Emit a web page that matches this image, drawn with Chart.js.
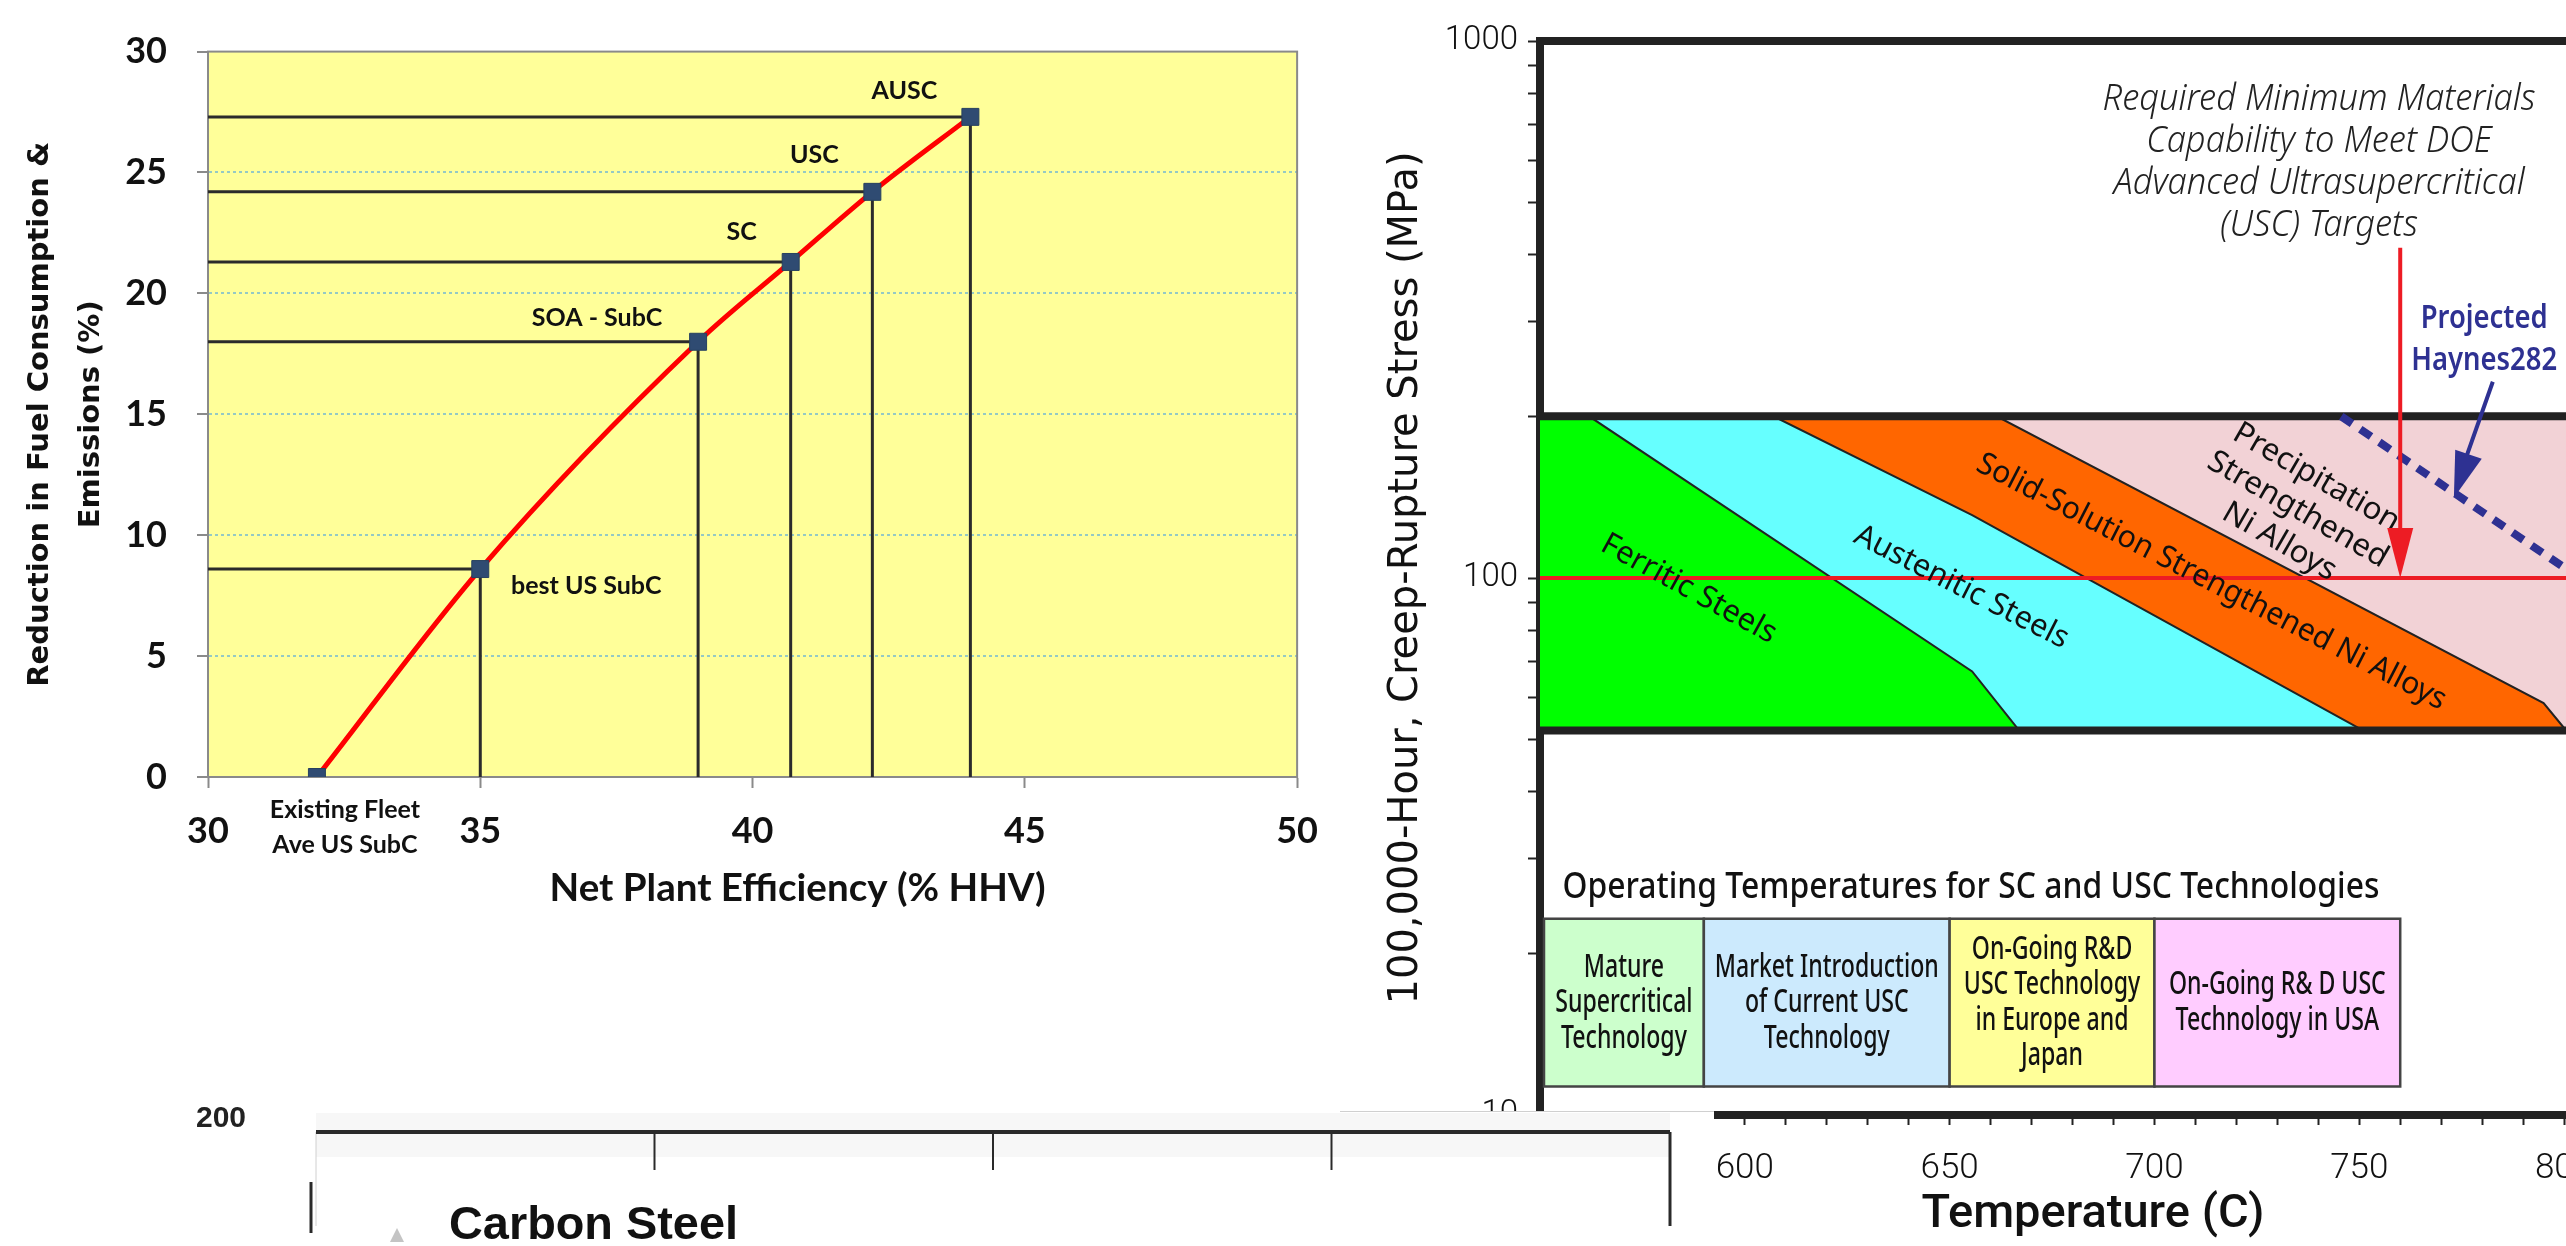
<!DOCTYPE html>
<html>
<head>
<meta charset="utf-8">
<script src="https://cdn.jsdelivr.net/npm/chart.js@4.4.0/dist/chart.umd.min.js"></script>
<style>
  html, body { margin: 0; padding: 0; background: #fff; width: 2566px; height: 1246px; overflow: hidden; position: relative; }
  canvas { position: absolute; }
  #efficiency { left: 0; top: 0; }
  #creep { left: 1340px; top: 0; }
  #carbon { left: 0; top: 1100px; }
</style>
</head>
<body>
<canvas id="efficiency" width="1340" height="930"></canvas>
<canvas id="creep" width="1340" height="1246"></canvas>
<canvas id="carbon" width="1714" height="146"></canvas>
<script>
// ---- left chart: efficiency vs reduction ----
const efficiency = [32, 35, 39, 40.7, 42.2, 44];
const reduction = [0, 8.6, 18, 21.3, 24.2, 27.3];
const plantTypes = [['Existing Fleet', 'Ave US SubC'], 'best US SubC', 'SOA - SubC', 'SC', 'USC', 'AUSC'];
const labelOffsets = [[28, 33], [106, 17], [-101, -24], [-49, -30], [-58, -37], [-66, -26]];

// ---- right chart: creep-rupture stress vs temperature ----
const stressTicks = [10, 20, 30, 40, 50, 60, 70, 80, 90, 100, 200, 300, 400, 500, 600, 700, 800, 900, 1000];
const stressLabels = [10, 100, 1000];
const bandTop = 200;
const bandBottom = 52;
const ferriticEdge = [[550, 200], [562, 200], [655.5, 67], [667, 52]];
const austeniticEdge = [[550, 200], [607, 200], [655.5, 131], [751, 52]];
const solidSolutionEdge = [[550, 200], [661.5, 200], [795, 58.5], [800.5, 52]];
const precipitationEdge = [[550, 200], [830, 200]];
const haynes282 = [[745.6, 200], [800.5, 104]];
const requiredStress = 100;
const requiredArrow = [[760, 412], [760, 100]];
const haynesArrow = [[782.6, 232], [773.1, 141]];
const techRanges = [[550, 590], [590, 650], [650, 700], [700, 760]];
const techStress = [11.3, 23.2];
const techTexts = [
  ['Mature', 'Supercritical', 'Technology'],
  ['Market Introduction', 'of Current USC', 'Technology'],
  ['On-Going R&D', 'USC Technology', 'in Europe and', 'Japan'],
  ['On-Going R& D USC', 'Technology in USA']
];
const techColors = ['#ccffcc', '#cceafd', '#ffff99', '#ffccff'];

// ---- bottom fragment: carbon steel ----
const carbonSteel = [];
const carbonTicks = [1, 2, 3];

const pts = arr => arr.map(([x, y]) => ({x, y}));

function drawLines(ctx, lines, x, y, o) {
  ctx.save();
  ctx.translate(x, y);
  if (o.rotate) ctx.rotate(o.rotate * Math.PI / 180);
  ctx.font = o.font;
  ctx.fillStyle = o.color || '#111';
  ctx.textAlign = o.align || 'center';
  ctx.textBaseline = 'middle';
  let sx = o.sx || 1;
  if (o.fit) sx = o.fit / ctx.measureText(lines[0]).width;
  ctx.scale(sx, 1);
  const n = lines.length;
  lines.forEach((t, i) => ctx.fillText(t, 0, (i - (n - 1) / 2) * o.lh));
  ctx.restore();
}

// ===== chart 1 =====
const plotFrame = {
  id: 'plotFrame',
  beforeDraw(chart) {
    const {ctx, chartArea: a} = chart;
    ctx.save();
    ctx.fillStyle = '#ffff99';
    ctx.fillRect(a.left, a.top, a.width, a.height);
    ctx.restore();
  },
  beforeDatasetsDraw(chart) {
    const {ctx, chartArea: a} = chart;
    ctx.save();
    ctx.strokeStyle = '#8a8a8a';
    ctx.lineWidth = 2;
    ctx.strokeRect(a.left, a.top, a.width, a.height);
    ctx.restore();
  }
};

const pointLabels = {
  id: 'pointLabels',
  afterDatasetsDraw(chart) {
    const {ctx, chartArea: a} = chart;
    const els = chart.getDatasetMeta(0).data;
    ctx.save();
    ctx.font = '700 25px Lato';
    ctx.fillStyle = '#111';
    ctx.textAlign = 'center';
    ctx.textBaseline = 'middle';
    plantTypes.forEach((label, i) => {
      const [dx, dy] = labelOffsets[i];
      [].concat(label).forEach((t, j) => ctx.fillText(t, els[i].x + dx, els[i].y + dy + j * 35));
    });
    ctx.restore();
    // axis title, slightly right of centre as in the source figure
    drawLines(ctx, ['Net Plant Efficiency (% HHV)'], (a.left + a.right) / 2 + 45, a.bottom + 112,
      {font: '700 38px Lato', lh: 40, fit: 496, color: '#111'});
  }
};

const dropLines = efficiency.slice(1).map((x, i) => ({
  data: [{x: 30, y: reduction[i + 1]}, {x, y: reduction[i + 1]}, {x, y: 0}],
  borderColor: '#2b2b2b',
  borderWidth: 3,
  pointRadius: 0,
  tension: 0
}));

new Chart(document.getElementById('efficiency'), {
  type: 'line',
  data: {
    datasets: [{
      data: efficiency.map((x, i) => ({x, y: reduction[i]})),
      borderColor: '#ff0000',
      borderWidth: 5,
      cubicInterpolationMode: 'monotone',
      pointStyle: 'rect',
      pointRadius: 12,
      pointBackgroundColor: '#2f4b72',
      pointBorderColor: '#27405f',
      pointBorderWidth: 1
    }, ...dropLines]
  },
  options: {
    responsive: false,
    animation: false,
    layout: {padding: {top: 50, right: 40, left: 0, bottom: 0}},
    plugins: {legend: {display: false}, tooltip: {enabled: false}},
    scales: {
      x: {
        type: 'linear', min: 30, max: 50,
        afterFit: s => { s.height = 153; },
        ticks: {stepSize: 5, color: '#111', padding: 22, font: {family: 'Lato', weight: '700', size: 36}},
        grid: {drawOnChartArea: false, tickLength: 11, tickColor: '#8a8a8a', tickWidth: 2},
        border: {color: '#8a8a8a', width: 2}
      },
      y: {
        min: 0, max: 30,
        afterFit: s => { s.width = 208; },
        ticks: {stepSize: 5, color: '#111', padding: 30, font: {family: 'Lato', weight: '700', size: 36}},
        grid: {
          color: c => (c.tick.value === 0 || c.tick.value === 30) ? 'rgba(0,0,0,0)' : '#95c9c4',
          lineWidth: 2, tickLength: 11, tickColor: '#8a8a8a', tickWidth: 2
        },
        border: {color: '#8a8a8a', width: 2, dash: [3, 3]},
        title: {display: true, text: ['Reduction in Fuel Consumption &', 'Emissions (%)'], color: '#111',
          padding: {top: 15, bottom: 0}, font: {family: 'DejaVu Sans', weight: 'bold', size: 29, lineHeight: 1.75}}
      }
    }
  },
  plugins: [plotFrame, pointLabels]
});

// ===== chart 2 =====
const creepNotes = {
  id: 'creepNotes',
  afterDatasetsDraw(chart) {
    const {ctx, scales: {x, y}} = chart;
    const body = {font: '400 31px "Noto Sans"', lh: 37, color: '#111'};
    drawLines(ctx, ['Ferritic Steels'], x.getPixelForValue(586.3), y.getPixelForValue(95.4), {...body, rotate: 28.8, fit: 195});
    drawLines(ctx, ['Austenitic Steels'], x.getPixelForValue(652.9), y.getPixelForValue(96.1), {...body, rotate: 27, fit: 236});
    drawLines(ctx, ['Solid-Solution Strengthened Ni Alloys'], x.getPixelForValue(713.9), y.getPixelForValue(98.3), {...body, rotate: 27.3, fit: 524});
    drawLines(ctx, ['Precipitation', 'Strengthened', 'Ni Alloys'], x.getPixelForValue(735), y.getPixelForValue(134), {...body, rotate: 30, fit: 187});
  },
  afterDraw(chart) {
    const {ctx, chartArea: a, scales: {x, y}} = chart;
    ctx.save();
    // top frame
    ctx.strokeStyle = '#222';
    ctx.lineWidth = 8;
    ctx.beginPath();
    ctx.moveTo(a.left - 4, a.top);
    ctx.lineTo(a.right, a.top);
    ctx.stroke();

    // arrowheads
    const head = (from, to, len, half, color) => {
      const x0 = x.getPixelForValue(from[0]), y0 = y.getPixelForValue(from[1]);
      const x1 = x.getPixelForValue(to[0]), y1 = y.getPixelForValue(to[1]);
      const ang = Math.atan2(y1 - y0, x1 - x0);
      ctx.save();
      ctx.translate(x1, y1);
      ctx.rotate(ang);
      ctx.fillStyle = color;
      ctx.beginPath();
      ctx.moveTo(0, 0);
      ctx.lineTo(-len, -half);
      ctx.lineTo(-len, half);
      ctx.closePath();
      ctx.fill();
      ctx.restore();
    };
    head(requiredArrow[0], requiredArrow[1], 50, 13, '#ed1c24');
    head(haynesArrow[0], haynesArrow[1], 46, 14, '#2e3192');

    // technology boxes
    const yTop = y.getPixelForValue(techStress[1]);
    const yBot = y.getPixelForValue(techStress[0]);
    techRanges.forEach(([t0, t1], i) => {
      const x0 = x.getPixelForValue(t0) + (i === 0 ? 4 : 0);
      const x1 = x.getPixelForValue(t1);
      ctx.fillStyle = techColors[i];
      ctx.fillRect(x0, yTop, x1 - x0, yBot - yTop);
      ctx.strokeStyle = '#444';
      ctx.lineWidth = 2.5;
      ctx.strokeRect(x0, yTop, x1 - x0, yBot - yTop);
      drawLines(ctx, techTexts[i], (x0 + x1) / 2, (yTop + yBot) / 2, {font: '500 33px "Noto Sans"', lh: 35.5, sx: 0.7, color: '#111'});
    });
    drawLines(ctx, ['Operating Temperatures for SC and USC Technologies'], x.getPixelForValue(655.2), y.getPixelForValue(26.5),
      {font: '500 36px "Noto Sans"', lh: 40, fit: 817, color: '#111'});

    drawLines(ctx, ['Required Minimum Materials', 'Capability to Meet DOE', 'Advanced Ultrasupercritical', '(USC) Targets'],
      x.getPixelForValue(740.2), y.getPixelForValue(593), {font: 'italic 300 37px "Noto Sans"', lh: 42, fit: 433, color: '#222'});
    drawLines(ctx, ['Projected', 'Haynes282'], x.getPixelForValue(780.5), y.getPixelForValue(277.5),
      {font: '600 32px "Noto Sans"', lh: 42, fit: 127, color: '#2e3192'});
    ctx.restore();
  }
};

const edgeSet = (edge, color) => ({
  data: pts(edge), borderColor: '#222', borderWidth: 2, backgroundColor: color,
  fill: {value: bandBottom}, pointRadius: 0, tension: 0
});

new Chart(document.getElementById('creep'), {
  type: 'line',
  data: {
    datasets: [
      {data: pts([requiredArrow[0], [760, 118]]), borderColor: '#ed1c24', borderWidth: 4, pointRadius: 0},
      {data: pts([haynesArrow[0], [774.5, 155]]), borderColor: '#2e3192', borderWidth: 4, pointRadius: 0},
      {data: pts(haynes282), borderColor: '#2e3192', borderWidth: 8, borderDash: [13, 10], pointRadius: 0},
      {data: [{x: 550, y: requiredStress}, {x: 830, y: requiredStress}], borderColor: '#ed1c24', borderWidth: 4, pointRadius: 0},
      {data: [{x: 550, y: bandTop}, {x: 830, y: bandTop}], borderColor: '#222', borderWidth: 8, pointRadius: 0},
      {data: [{x: 550, y: bandBottom}, {x: 830, y: bandBottom}], borderColor: '#222', borderWidth: 8, pointRadius: 0},
      edgeSet(ferriticEdge, '#00ff00'),
      edgeSet(austeniticEdge, '#66ffff'),
      edgeSet(solidSolutionEdge, '#ff6600'),
      {...edgeSet(precipitationEdge, '#f2d2d6'), borderWidth: 0}
    ]
  },
  options: {
    responsive: false,
    animation: false,
    layout: {padding: {top: 41, right: 34, left: 0, bottom: 0}},
    plugins: {legend: {display: false}, tooltip: {enabled: false}},
    scales: {
      x: {
        type: 'linear', min: 550, max: 820,
        afterFit: s => { s.height = 131; },
        ticks: {stepSize: 10, autoSkip: false, maxRotation: 0, color: '#111', padding: 23,
          callback: v => v % 50 === 0 ? String(v) : '',
          font: {family: 'Roboto', weight: '300', size: 35}},
        grid: {drawOnChartArea: false, tickLength: 10, tickColor: '#222', tickWidth: 2},
        border: {color: '#222', width: 8},
        title: {display: true, text: 'Temperature (C)', color: '#111', padding: {bottom: 3, top: 0},
          font: {family: 'Roboto', weight: '500', size: 47}}
      },
      y: {
        type: 'logarithmic', min: 10, max: 1000,
        afterFit: s => { s.width = 200; },
        afterBuildTicks: s => { s.ticks = stressTicks.map(value => ({value})); },
        ticks: {autoSkip: false, color: '#111', padding: 10,
          callback: v => stressLabels.includes(v) ? String(v) : '',
          font: {family: 'Roboto', weight: '300', size: 33}},
        grid: {drawOnChartArea: false, tickLength: 12, tickColor: '#222', tickWidth: 2},
        border: {color: '#222', width: 8},
        title: {display: true, text: '100,000-Hour, Creep-Rupture Stress (MPa)', color: '#111',
          padding: {top: 43, bottom: 0}, font: {family: 'DejaVu Sans', size: 40}}
      }
    }
  },
  plugins: [creepNotes]
});

// ===== chart 3 (fragment) =====
const carbonFrame = {
  id: 'carbonFrame',
  beforeDraw(chart) {
    const {ctx, width, height} = chart;
    ctx.save();
    ctx.fillStyle = '#fff';
    ctx.fillRect(0, 11, width, height - 11);
    ctx.restore();
  },
  afterDraw(chart) {
    const {ctx, chartArea: a, scales: {x}} = chart;
    ctx.save();
    ctx.fillStyle = 'rgba(0,0,0,0.03)';
    ctx.fillRect(a.left, 13, a.width, 44);
    ctx.strokeStyle = '#d0d0d0';
    ctx.lineWidth = 1;
    ctx.beginPath(); ctx.moveTo(1340, 11.5); ctx.lineTo(1714, 11.5); ctx.stroke();
    ctx.beginPath(); ctx.moveTo(a.left, a.top); ctx.lineTo(a.left, a.bottom); ctx.stroke();
    ctx.strokeStyle = '#2a2a2a';
    ctx.lineWidth = 4;
    ctx.beginPath(); ctx.moveTo(a.left, a.top); ctx.lineTo(a.right, a.top); ctx.stroke();
    ctx.lineWidth = 3;
    ctx.beginPath(); ctx.moveTo(a.right, a.top); ctx.lineTo(a.right, a.bottom); ctx.stroke();
    ctx.beginPath(); ctx.moveTo(a.left - 5, a.top + 50); ctx.lineTo(a.left - 5, a.top + 101); ctx.stroke();
    ctx.lineWidth = 2;
    carbonTicks.forEach(v => {
      const px = x.getPixelForValue(v);
      ctx.beginPath(); ctx.moveTo(px, a.top); ctx.lineTo(px, a.top + 38); ctx.stroke();
    });
    // legend entry inside the plot
    const ds = chart.data.datasets[0];
    ctx.fillStyle = ds.backgroundColor;
    ctx.beginPath();
    ctx.moveTo(a.left + 81, a.top + 96);
    ctx.lineTo(a.left + 88, a.top + 110);
    ctx.lineTo(a.left + 74, a.top + 110);
    ctx.closePath();
    ctx.fill();
    drawLines(ctx, [ds.label], a.left + 133, a.top + 94,
      {font: 'bold 46px "Liberation Sans"', lh: 46, fit: 289, align: 'left', color: '#111'});
    ctx.restore();
  }
};

new Chart(document.getElementById('carbon'), {
  type: 'line',
  data: {
    datasets: [{label: 'Carbon Steel', data: carbonSteel, pointStyle: 'triangle',
      backgroundColor: '#c4c4c4', borderColor: '#c4c4c4'}]
  },
  options: {
    responsive: false,
    animation: false,
    layout: {padding: {top: 32, right: 44, left: 0, bottom: 0}},
    plugins: {tooltip: {enabled: false}, legend: {display: false}},
    scales: {
      x: {type: 'linear', min: 0, max: 4, display: false},
      y: {
        min: 150, max: 200,
        afterFit: s => { s.width = 316; },
        afterBuildTicks: s => { s.ticks = [{value: 200}]; },
        ticks: {color: '#222', padding: 2, labelOffset: -13, font: {family: 'Liberation Sans', weight: 'bold', size: 30}},
        grid: {display: true, drawOnChartArea: false, drawTicks: true, tickLength: 68, tickColor: 'rgba(0,0,0,0)'},
        border: {display: false}
      }
    }
  },
  plugins: [carbonFrame]
});
</script>
</body>
</html>
